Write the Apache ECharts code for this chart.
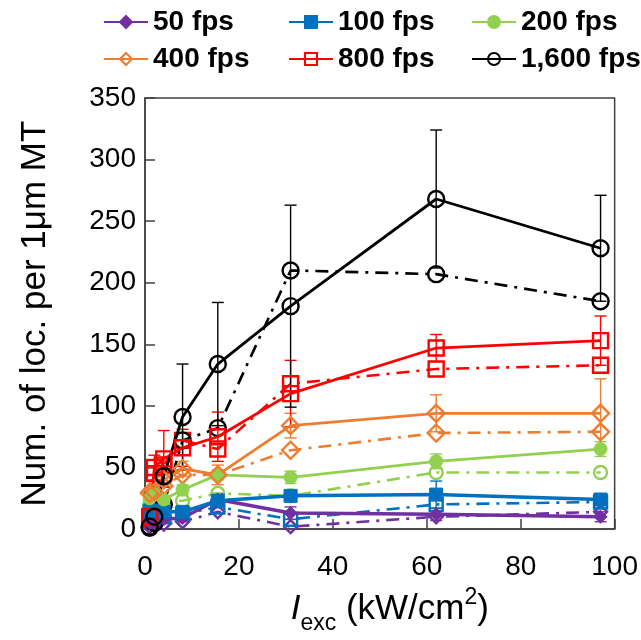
<!DOCTYPE html>
<html>
<head>
<meta charset="utf-8">
<script src="https://cdn.jsdelivr.net/npm/echarts@6/dist/echarts.min.js"></script>
<style>html,body{margin:0;padding:0;background:#fff}#c{width:641px;height:640px}</style>
</head>
<body>
<div id="c"></div>
<script>
// Excitation intensity (kW/cm2)
const xVals = [1, 2, 4, 8, 15.5, 31, 62, 97];
const fpsNames = ['50 fps', '100 fps', '200 fps', '400 fps', '800 fps', '1,600 fps'];
// solid series (mean) and error (SD)
const solid50   = [5, 6, 8, 9, 24, 13, 12, 10];
const err50     = [2, 2, 3, 3, 5, 5, 5, 4];
const dash50    = [2, 3, 4, 6, 14, 2, 10, 14];
const solid100  = [15, 15, 14, 14, 23, 27, 28, 24];
const err100    = [3, 3, 3, 4, 5, 4, 11, 4];
const dash100   = [12, 10, 10, 12, 18, 8, 20, 22];
const solid200  = [25, 28, 24, 32, 44, 42, 55, 65];
const err200    = [3, 3, 3, 4, 4, 5, 6, 6];
const dash200   = [20, 22, 23, 23, 29, 27, 46, 46];
const solid400  = [29, 30, 40, 49, 44, 84, 94, 94];
const err400    = [4, 5, 5, 6, 8, 10, 15, 28];
const dash400   = [30, 28, 35, 44, 44, 64, 78, 79];
const solid800  = [10, 50, 57, 66, 75, 110, 147, 153];
const err800    = [3, 10, 23, 15, 20, 27, 11, 20];
const dash800   = [8, 45, 52, 72, 65, 118, 130, 133];
const solid1600 = [2, 10, 43, 91, 134, 181, 268, 228];
const err1600   = [1, 3, 6, 43, 50, 82, 56, 43];
const dash1600  = [1, 5, 20, 72, 82, 210, 207, 185];
const yTicks = [0, 50, 100, 150, 200, 250, 300, 350];
const xTicks = [0, 20, 40, 60, 80, 100];

const groups = [
  {name: fpsNames[0], solid: solid50, err: err50, dash: dash50, color: '#7030A0', symbol: 'diamond', filled: true, size: 13, w: 3.5},
  {name: fpsNames[1], solid: solid100, err: err100, dash: dash100, color: '#0070C0', symbol: 'rect', filled: true, size: 13, w: 3.5},
  {name: fpsNames[2], solid: solid200, err: err200, dash: dash200, color: '#92D050', symbol: 'circle', filled: true, size: 13, w: 2.8},
  {name: fpsNames[3], solid: solid400, err: err400, dash: dash400, color: '#ED7D31', symbol: 'diamond', filled: false, size: 17, w: 2.8},
  {name: fpsNames[4], solid: solid800, err: err800, dash: dash800, color: '#FF0000', symbol: 'rect', filled: false, size: 15, w: 2.8},
  {name: fpsNames[5], solid: solid1600, err: err1600, dash: dash1600, color: '#000000', symbol: 'circle', filled: false, size: 16, w: 2.8}
];

const FONT = 'Liberation Sans, Arial, sans-serif';
const series = [];
groups.forEach(g => {
  series.push({
    name: g.name + ' err',
    type: 'custom',
    z: 1,
    silent: true,
    data: xVals.map((x, j) => [x, g.solid[j], g.err[j]]),
    encode: {x: 0, y: 1},
    renderItem: (params, api) => {
      const x = api.value(0), y = api.value(1), e = api.value(2);
      const top = api.coord([x, y + e]);
      const lowV = Math.max(0, y - e);
      const bot = api.coord([x, lowV]);
      const cw = 6;
      const st = {stroke: g.color, lineWidth: 1.4};
      const ch = [
        {type: 'line', shape: {x1: top[0], y1: top[1], x2: bot[0], y2: bot[1]}, style: st},
        {type: 'line', shape: {x1: top[0] - cw, y1: top[1], x2: top[0] + cw, y2: top[1]}, style: st}
      ];
      if (y - e > 0) ch.push({type: 'line', shape: {x1: bot[0] - cw, y1: bot[1], x2: bot[0] + cw, y2: bot[1]}, style: st});
      return {type: 'group', children: ch};
    }
  });
  series.push({
    name: g.name + ' dash',
    type: 'line',
    z: 2,
    data: xVals.map((x, j) => [x, g.dash[j]]),
    symbol: g.symbol,
    symbolSize: g.size,
    showSymbol: true,
    lineStyle: {color: g.color, width: 2.6, type: [13, 7, 3, 7]},
    itemStyle: {color: 'rgba(255,255,255,0)', borderColor: g.color, borderWidth: 2.4},
    emphasis: {disabled: true}
  });
  series.push({
    name: g.name,
    type: 'line',
    z: 3,
    data: xVals.map((x, j) => [x, g.solid[j]]),
    symbol: g.symbol,
    symbolSize: g.size,
    showSymbol: true,
    lineStyle: {color: g.color, width: g.w},
    itemStyle: g.filled ? {color: g.color, borderColor: g.color, borderWidth: 1}
                        : {color: 'rgba(255,255,255,0)', borderColor: g.color, borderWidth: 2.4},
    emphasis: {disabled: true}
  });
});

const legendCommon = {
  orient: 'vertical', top: 3, itemGap: 9, itemWidth: 44, itemHeight: 15,
  textStyle: {fontSize: 28, fontWeight: 'bold', color: '#000', fontFamily: FONT, lineHeight: 28}
};

const chart = echarts.init(document.getElementById('c'), null, {renderer: 'canvas'});
chart.setOption({
  animation: false,
  backgroundColor: '#fff',
  legend: [
    Object.assign({left: 98, data: [fpsNames[0], fpsNames[3]]}, legendCommon),
    Object.assign({left: 283, data: [fpsNames[1], fpsNames[4]]}, legendCommon),
    Object.assign({left: 466, data: [fpsNames[2], fpsNames[5]]}, legendCommon)
  ],
  grid: {left: 145, right: 22, top: 98, bottom: 97, show: true, borderColor: '#404040', borderWidth: 1.5, backgroundColor: 'transparent'},
  xAxis: {
    type: 'value', min: xTicks[0], max: xTicks[xTicks.length - 1], interval: 20,
    axisLine: {show: true, lineStyle: {color: '#404040', width: 1.5}},
    axisTick: {show: true, inside: true, length: 10, lineStyle: {color: '#404040', width: 1.5}},
    axisLabel: {fontSize: 28, color: '#000', fontFamily: FONT, margin: 24},
    splitLine: {show: false},
    name: '{i|I}{sub|exc}{n| (kW/cm}{sup|2}{n|)}',
    nameLocation: 'middle',
    nameGap: 59,
    nameTextStyle: {
      fontFamily: FONT, color: '#000', fontSize: 34, padding: [0, 0, 0, 20],
      rich: {
        i: {fontSize: 35, fontStyle: 'italic', fontFamily: FONT, color: '#000', verticalAlign: 'bottom'},
        sub: {fontSize: 23, fontFamily: FONT, color: '#000', verticalAlign: 'bottom', padding: [0, 0, -8, 0]},
        n: {fontSize: 35, fontFamily: FONT, color: '#000', verticalAlign: 'bottom'},
        sup: {fontSize: 23, fontFamily: FONT, color: '#000', verticalAlign: 'top', padding: [-6, 0, 0, 0]}
      }
    }
  },
  yAxis: {
    type: 'value', min: yTicks[0], max: yTicks[yTicks.length - 1], interval: 50,
    axisLine: {show: true, lineStyle: {color: '#404040', width: 1.5}},
    axisTick: {show: true, inside: true, length: 10, lineStyle: {color: '#404040', width: 1.5}},
    axisLabel: {fontSize: 28, color: '#000', fontFamily: FONT, margin: 9},
    splitLine: {show: false},
    name: 'Num. of loc. per 1μm MT',
    nameLocation: 'middle',
    nameGap: 92,
    nameTextStyle: {fontSize: 35, color: '#000', fontFamily: FONT}
  },
  series: series
});
</script>
</body>
</html>
